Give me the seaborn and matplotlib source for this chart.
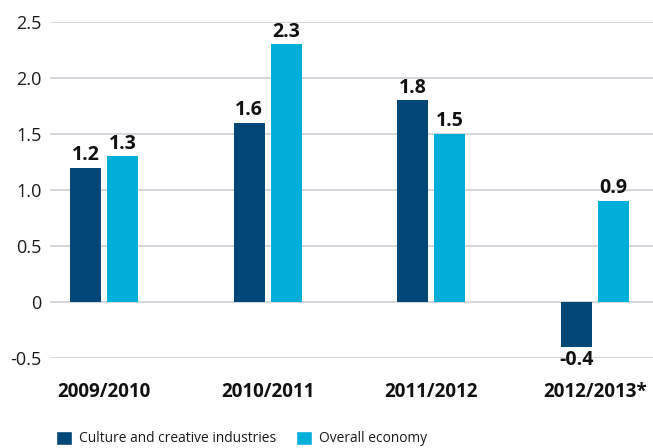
import matplotlib
matplotlib.use("Agg")
import matplotlib.pyplot as plt
import seaborn as sns
import pandas as pd
from matplotlib.ticker import FuncFormatter
from matplotlib.patches import Patch

periods = ["2009/2010", "2010/2011", "2011/2012", "2012/2013*"]
culture = [1.2, 1.6, 1.8, -0.4]
overall = [1.3, 2.3, 1.5, 0.9]
series_names = ["Culture and creative industries", "Overall economy"]
yticks = [-0.5, 0, 0.5, 1.0, 1.5, 2.0, 2.5]

dark_blue = "#004677"
light_blue = "#00AEDA"

df = pd.DataFrame({
    "period": periods * 2,
    "value": culture + overall,
    "series": [series_names[0]] * len(periods) + [series_names[1]] * len(periods),
})

sns.set_theme(style="white")
plt.rcParams["font.family"] = ["Open Sans", "DejaVu Sans"]

fig = plt.figure(figsize=(6.53, 4.48), dpi=100)
ax = fig.add_axes([0.0766, 0.201, 0.9234, 0.750])

sns.barplot(data=df, x="period", y="value", hue="series",
            palette=[dark_blue, light_blue], width=0.4526, gap=0.162,
            saturation=1, legend=False, linewidth=0, ax=ax, zorder=3)

for container in ax.containers:
    ax.bar_label(container, fmt="%.1f", padding=2, fontsize=14,
                 fontweight="bold", color="#111111")

ax.set_ylim(-0.5, 2.5)
ax.set_xlim(-0.33, 3.355)
ax.set_yticks(yticks)
ax.yaxis.set_major_formatter(FuncFormatter(lambda v, p: "0" if abs(v) < 1e-9 else f"{v:.1f}"))
ax.grid(axis="y", color="#d3d6da", linewidth=1.4, zorder=0)
ax.grid(axis="x", visible=False)
for s in ax.spines.values():
    s.set_visible(False)
ax.tick_params(axis="y", length=0, pad=6, labelsize=13, labelcolor="#1a1a1a")
ax.tick_params(axis="x", length=0, pad=17, labelsize=13.5, labelcolor="#111111")
for lbl in ax.get_xticklabels():
    lbl.set_fontweight("bold")
ax.set_xlabel("")
ax.set_ylabel("")

handles = [Patch(facecolor=dark_blue, label=series_names[0]),
           Patch(facecolor=light_blue, label=series_names[1])]
fig.legend(handles=handles, loc="lower left", bbox_to_anchor=(0.067, -0.024),
           ncol=2, frameon=False, fontsize=9.9, handlelength=1.15,
           handleheight=1.15, handletextpad=0.5, columnspacing=1.45,
           labelcolor="#1a1a1a")

fig.savefig("out.png", dpi=100)
